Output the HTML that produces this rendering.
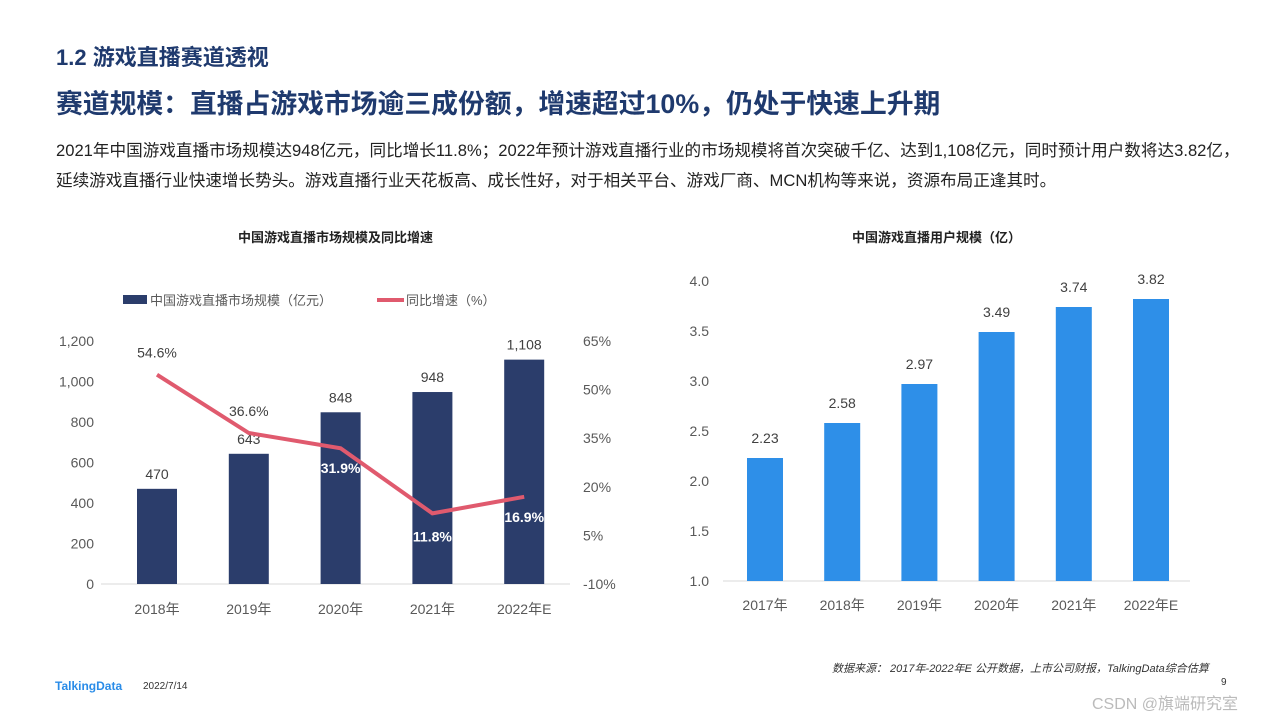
<!DOCTYPE html>
<html><head><meta charset="utf-8">
<style>
body{margin:0;width:1280px;height:720px;background:#fff;font-family:"Liberation Sans","Noto Sans CJK SC",sans-serif;overflow:hidden;position:relative}
.abs{position:absolute;white-space:nowrap}
</style></head><body>
<div class="abs" style="left:56px;top:40px;font-size:22px;font-weight:bold;color:#1f3a6e">1.2 游戏直播赛道透视</div>
<div class="abs" style="left:56px;top:82px;font-size:26.8px;font-weight:bold;color:#1f3a6e">赛道规模：直播占游戏市场逾三成份额，增速超过10%，仍处于快速上升期</div>
<div class="abs" style="left:56px;top:136px;font-size:16.6px;line-height:30px;color:#222">2021年中国游戏直播市场规模达948亿元，同比增长11.8%；2022年预计游戏直播行业的市场规模将首次突破千亿、达到1,108亿元，同时预计用户数将达3.82亿，<br>延续游戏直播行业快速增长势头。游戏直播行业天花板高、成长性好，对于相关平台、游戏厂商、MCN机构等来说，资源布局正逢其时。</div>
<div class="abs" style="left:238px;top:227px;font-size:13px;font-weight:bold;color:#222">中国游戏直播市场规模及同比增速</div>
<div class="abs" style="left:852px;top:227px;font-size:13px;font-weight:bold;color:#222">中国游戏直播用户规模（亿）</div>
<div class="abs" style="left:832px;top:660px;font-size:11px;font-style:italic;color:#333">数据来源： 2017年-2022年E 公开数据，上市公司财报，TalkingData综合估算</div>
<div class="abs" style="left:55px;top:679px;font-size:12px;font-weight:bold;color:#2a8ce8">TalkingData</div>
<div class="abs" style="left:143px;top:681px;font-size:10px;color:#333">2022/7/14</div>
<div class="abs" style="left:1221px;top:677px;font-size:10px;color:#333">9</div>
<div class="abs" style="left:1092px;top:690px;font-size:16px;color:#bbb">CSDN @旗端研究室</div>
<svg id="c" width="1280" height="720" style="position:absolute;left:0;top:0"></svg>
<script>
const cats1=["2018年","2019年","2020年","2021年","2022年E"];
const market=[470,643,848,948,1108];
const growth=[54.6,36.6,31.9,11.8,16.9];
const growthLabels=["54.6%","36.6%","31.9%","11.8%","16.9%"];
const leftTicks=[0,200,400,600,800,1000,1200];
const rightTicks=[-10,5,20,35,50,65];
const cats2=["2017年","2018年","2019年","2020年","2021年","2022年E"];
const users=[2.23,2.58,2.97,3.49,3.74,3.82];
const userTicks=[1.0,1.5,2.0,2.5,3.0,3.5,4.0];

const svg=document.getElementById('c');
const NS='http://www.w3.org/2000/svg';
function mk(t,a,txt){const e=document.createElementNS(NS,t);for(const k in a)e.setAttribute(k,a[k]);if(txt!==undefined)e.textContent=txt;svg.appendChild(e);return e;}
const y1=v=>584-v/1200*243, y2=v=>584-(v+10)/75*243, x1=i=>157+i*91.8;
let e=mk('line',{x1:101,y1:584,x2:570,y2:584,stroke:'#d9d9d9'});

leftTicks.forEach(t=>{e=mk('text',{x:94,y:y1(t)+5,'text-anchor':'end','font-size':14,fill:'#595959'},t.toLocaleString('en-US'));
});
rightTicks.forEach(t=>{e=mk('text',{x:583,y:y2(t)+5,'font-size':14,fill:'#595959'},t+'%');
});
market.forEach((v,i)=>{
e=mk('rect',{x:x1(i)-20,y:y1(v),width:40,height:584-y1(v),fill:'#2b3d6b'});

e=mk('text',{x:x1(i),y:y1(v)-10,'text-anchor':'middle','font-size':14,fill:'#404040'},v.toLocaleString('en-US'));

e=mk('text',{x:x1(i),y:614,'text-anchor':'middle','font-size':14,fill:'#595959'},cats1[i]);

});
e=mk('polyline',{points:growth.map((g,i)=>x1(i)+','+y2(g)).join(' '),fill:'none',stroke:'#e05a6e','stroke-width':4});

const gOff=[-17,-17,25,28,25],gCol=['#404040','#404040','#fff','#fff','#fff'];
growth.forEach((g,i)=>{e=mk('text',{x:x1(i),y:y2(g)+gOff[i],'text-anchor':'middle','font-size':14,fill:gCol[i],'font-weight':i>1?'bold':'normal'},growthLabels[i]);
});
e=mk('rect',{x:123,y:295,width:24,height:9,fill:'#2b3d6b'});

e=mk('text',{x:150,y:305,'font-size':13,fill:'#595959'},'中国游戏直播市场规模（亿元）');

e=mk('line',{x1:377,y1:300,x2:404,y2:300,stroke:'#e05a6e','stroke-width':4});

e=mk('text',{x:406,y:305,'font-size':13,fill:'#595959'},'同比增速（%）');

const y3=v=>581-(v-1)*100, x3=i=>765+i*77.2;
e=mk('line',{x1:723,y1:581,x2:1190,y2:581,stroke:'#d9d9d9'});

userTicks.forEach(t=>{e=mk('text',{x:709,y:y3(t)+5,'text-anchor':'end','font-size':14,fill:'#595959'},t.toFixed(1));
});
users.forEach((v,i)=>{
e=mk('rect',{x:x3(i)-18,y:y3(v),width:36,height:581-y3(v),fill:'#2e8fe8'});

e=mk('text',{x:x3(i),y:y3(v)-15,'text-anchor':'middle','font-size':14,fill:'#404040'},v.toFixed(2));

e=mk('text',{x:x3(i),y:610,'text-anchor':'middle','font-size':14,fill:'#595959'},cats2[i]);

});
</script>
</body></html>
